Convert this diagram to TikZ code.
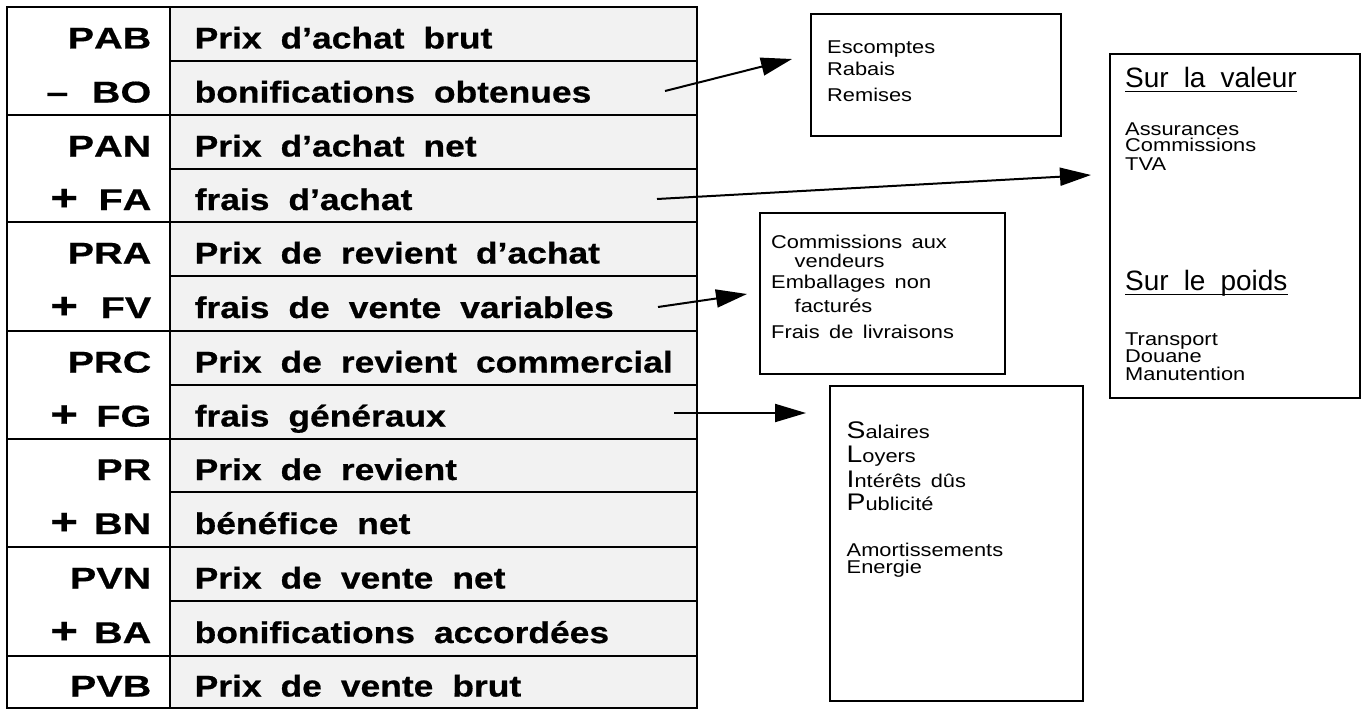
\documentclass[tikz,border=0pt]{standalone}
\usepackage{fontspec}
\setmainfont{Liberation Sans}
\newfontfamily\rowfont{Liberation Sans}[FakeStretch=1.18, BoldFeatures={FakeBold=0.6}]
\newfontfamily\labfont{Liberation Sans}[FakeStretch=1.32, Kerning=Off, BoldFeatures={FakeBold=0.6}]
\newfontfamily\boxfont{Liberation Sans}[FakeStretch=1.18]
\usetikzlibrary{arrows.meta,calc}
\definecolor{rowgrey}{RGB}{242,242,242}
\newcommand{\initial}[1]{{\fontsize{24}{24}\selectfont #1}}
\newcommand{\plussign}{\hspace*{4pt}{\fontsize{36}{36}\selectfont +}}
\newcommand{\minussign}{–}

\begin{document}
\begin{tikzpicture}[x=1pt,y=-1pt,
  rowtext/.style={anchor=base west, inner sep=0pt,
    font={\rowfont\bfseries\fontsize{30}{36}\selectfont\spaceskip=19pt\relax}},
  labtext/.style={anchor=base east, inner sep=0pt,
    font={\labfont\bfseries\fontsize{30}{36}\selectfont}},
  smalltext/.style={anchor=base west, inner sep=0pt,
    font={\boxfont\fontsize{18.5}{20}\selectfont\spaceskip=9.5pt\relax}},
  headtext/.style={anchor=base west, inner sep=0pt,
    font={\fontsize{28}{30}\selectfont\spaceskip=15pt\relax}},
  infobox/.style={draw, line width=1.8pt, anchor=north west, inner sep=0pt},
  arr/.style={line width=2pt, -{Triangle[length=31pt,width=18pt]}},
]
\useasboundingbox (0,0) rectangle (1364,709);

% ---- cost table ----
\fill[rowgrey] (170,7) rectangle (697,708);
\foreach \y in {61,169,276,385,492,601}
  \draw[line width=1.6pt] (170,\y) -- (697,\y);
\foreach \y in {115,222,331,439,547,656}
  \draw[line width=2pt] (7,\y) -- (697,\y);
\draw[line width=2pt] (7,7) rectangle (697,708);
\draw[line width=2pt] (170,7) -- (170,708);

\foreach \i/\y/\s/\l/\t in {
   0/48.5/{}/PAB/{Prix d’achat brut},
   1/102.5/{\minussign}/BO/{bonifications obtenues},
   2/156.5/{}/PAN/{Prix d’achat net},
   3/210/{\plussign}/FA/{frais d’achat},
   4/263.5/{}/PRA/{Prix de revient d’achat},
   5/318/{\plussign}/FV/{frais de vente variables},
   6/372.5/{}/PRC/{Prix de revient commercial},
   7/426.5/{\plussign}/FG/{frais généraux},
   8/480/{}/PR/{Prix de revient},
   9/534/{\plussign}/BN/{bénéfice net},
  10/588.5/{}/PVN/{Prix de vente net},
  11/643/{\plussign}/BA/{bonifications accordées},
  12/696.5/{}/PVB/{Prix de vente brut}} {
  \node[labtext] (lab\i) at (151.5,\y) {\makebox[105pt][l]{\s\hfill\l}};
  \node[rowtext] (row\i) at (194.5,\y) {\t};
}

% ---- detail boxes ----
\node[infobox, minimum width=250pt, minimum height=122pt] (escbox) at (810,13) {};
\node[infobox, minimum width=250pt, minimum height=344pt] (fabox) at (1109,53) {};
\node[infobox, minimum width=245pt, minimum height=161pt] (fvbox) at (759,212) {};
\node[infobox, minimum width=253pt, minimum height=315pt] (fgbox) at (829,385) {};

% discounts
\node[smalltext] (esc1) at (827,53) {Escomptes};
\node[smalltext] (esc2) at (827,75) {Rabais};
\node[smalltext] (esc3) at (827,101) {Remises};

% purchase costs
\node[headtext] (valhead) at (1125,87) {Sur la valeur};
\draw[line width=1.6pt] ($(valhead.base west)+(0,4.5)$) -- ($(valhead.base east)+(0,4.5)$);
\node[smalltext] (val1) at (1125,135) {Assurances};
\node[smalltext] (val2) at (1125,151.5) {Commissions};
\node[smalltext] (val3) at (1125,170) {TVA};
\node[headtext] (poidshead) at (1125,290) {Sur le poids};
\draw[line width=1.6pt] ($(poidshead.base west)+(0,4.5)$) -- ($(poidshead.base east)+(0,4.5)$);
\node[smalltext] (poids1) at (1125,345) {Transport};
\node[smalltext] (poids2) at (1125,362) {Douane};
\node[smalltext] (poids3) at (1125,380) {Manutention};

% variable selling costs
\node[smalltext] (fv1) at (771,248) {Commissions aux};
\node[smalltext] (fv2) at (794.5,267) {vendeurs};
\node[smalltext] (fv3) at (771,288) {Emballages non};
\node[smalltext] (fv4) at (794.5,312) {facturés};
\node[smalltext] (fv5) at (771,338) {Frais de livraisons};

% overheads
\node[smalltext] (fg1) at (846.5,438) {\initial{S}alaires};
\node[smalltext] (fg2) at (846.5,462) {\initial{L}oyers};
\node[smalltext] (fg3) at (846.5,487) {\initial{I}ntérêts dûs};
\node[smalltext] (fg4) at (846.5,510) {\initial{P}ublicité};
\node[smalltext] (fg5) at (846.5,556) {Amortissements};
\node[smalltext] (fg6) at (846.5,573) {Energie};

% ---- connectors ----
\coordinate (boOut) at (665,91);  \coordinate (escIn) at (792,59);
\coordinate (faOut) at (657,199); \coordinate (faIn)  at (1091,175);
\coordinate (fvOut) at (658,307); \coordinate (fvIn)  at (747,294);
\coordinate (fgOut) at (674,413); \coordinate (fgIn)  at (806,413);
\draw[arr] (boOut) -- (escIn);
\draw[arr] (faOut) -- (faIn);
\draw[arr] (fvOut) -- (fvIn);
\draw[arr] (fgOut) -- (fgIn);
\end{tikzpicture}
\end{document}
